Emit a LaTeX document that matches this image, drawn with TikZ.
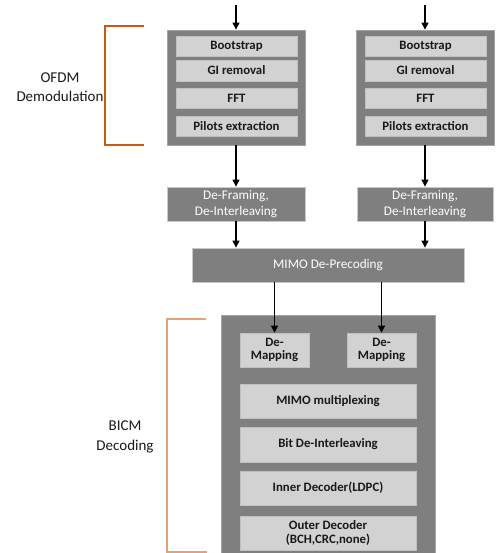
\documentclass[tikz,border=0pt]{standalone}
\usepackage{fontspec}
\setmainfont{Carlito}
\usetikzlibrary{arrows.meta}
\definecolor{boxgray}{RGB}{127,127,127}
\definecolor{cellgray}{RGB}{210,210,210}
\definecolor{edgegray}{RGB}{165,165,165}
\definecolor{bracketdark}{RGB}{197,90,17}
\definecolor{bracketlight}{RGB}{232,160,110}
\tikzset{
  x=1pt, y=-1pt,
  frame/.style={draw=edgegray, fill=boxgray, line width=0.8pt, inner sep=0pt},
  cell/.style={draw=edgegray!70!white, fill=cellgray, line width=0.6pt, inner sep=0pt,
    font=\fontsize{12.8}{13.5}\selectfont\bfseries, align=center, text=black!90},
  midbox/.style={draw=edgegray!60!white, fill=boxgray, line width=0.8pt, inner sep=0pt,
    font=\fontsize{13.2}{15.5}\selectfont, align=center, text=white},
  flow/.style={line width=1.2pt, -{Triangle[width=7pt,length=7pt]}},
  brace/.style={line width=1.3pt},
  caption/.style={font=\fontsize{15}{19.5}\selectfont, align=center, text=black!90}
}
% rectangle node from left/top/right/bottom edges
\newcommand{\boxat}[6]{%
  \node[#1, minimum width={#5-#3}, minimum height={#6-#4}] (#2)
    at ({(#3+#5)/2},{(#4+#6)/2}) {};}
\newcommand{\cellat}[7]{%
  \node[#1, minimum width={#5-#3}, minimum height={#6-#4}] (#2)
    at ({(#3+#5)/2},{(#4+#6)/2}) {#7};}
\begin{document}
\begin{tikzpicture}
\useasboundingbox (0,0) rectangle (495,553);

% OFDM demodulation chains
\boxat{frame}{ofdmL}{167}{30}{305}{145}
\cellat{cell}{bootL}{176}{36}{297}{56}{Bootstrap}
\cellat{cell}{giL}{176}{60}{297}{81}{GI removal}
\cellat{cell}{fftL}{176}{88}{297}{108}{FFT}
\cellat{cell}{pilL}{176}{116}{297}{136}{Pilots extraction}

\boxat{frame}{ofdmR}{356}{30}{494}{145}
\cellat{cell}{bootR}{365}{36}{486}{56}{Bootstrap}
\cellat{cell}{giR}{365}{60}{486}{81}{GI removal}
\cellat{cell}{fftR}{365}{88}{486}{108}{FFT}
\cellat{cell}{pilR}{365}{116}{486}{136}{Pilots extraction}

\coordinate (inL) at (236,5);
\coordinate (inR) at (425,5);

% De-framing and MIMO de-precoding
\cellat{midbox}{dfL}{167}{187}{305}{221}{De-Framing,\\De-Interleaving}
\cellat{midbox}{dfR}{357}{187}{493}{221}{De-Framing,\\De-Interleaving}
\cellat{midbox}{mimo}{192}{248}{464}{282}{MIMO De-Precoding}

% BICM decoding
\boxat{frame}{bicm}{221}{315}{435}{556}
\cellat{cell}{dmL}{240}{333}{309}{367}{De-\\Mapping}
\cellat{cell}{dmR}{347}{333}{416}{367}{De-\\Mapping}
\cellat{cell}{mux}{240}{384}{416}{418}{MIMO multiplexing}
\cellat{cell}{bdi}{240}{427}{416}{462}{Bit De-Interleaving}
\cellat{cell}{inner}{240}{471}{416}{505}{Inner Decoder(LDPC)}
\cellat{cell}{outer}{240}{516}{416}{550}{Outer Decoder\\(BCH,CRC,none)}

% connectors
\draw[flow] (inL) -- (inL |- ofdmL.north);
\draw[flow] (inR) -- (inR |- ofdmR.north);
\draw[flow] (ofdmL.south -| inL) -- (dfL.north -| inL);
\draw[flow] (ofdmR.south -| inR) -- (dfR.north -| inR);
\draw[flow] (dfL.south -| inL) -- (mimo.north -| inL);
\draw[flow] (dfR.south -| inR) -- (mimo.north -| inR);
\draw[flow] (mimo.south -| dmL) -- (dmL.north);
\draw[flow] (mimo.south -| dmR) -- (dmR.north);

% brackets and captions
\coordinate (obt) at (144,26);
\coordinate (obb) at (144,145);
\draw[brace, bracketdark] (obt) -- (105,26) -- (105,145) -- (obb);
\node[caption] (ocap) at (60,87) {OFDM\\Demodulation};

\coordinate (bbt) at (206,319);
\coordinate (bbb) at (207,552);
\draw[brace, bracketlight] (bbt) -- (167,319) -- (167,552) -- (bbb);
\node[caption] (bcap) at (125,437) {BICM\\Decoding};
\end{tikzpicture}
\end{document}
